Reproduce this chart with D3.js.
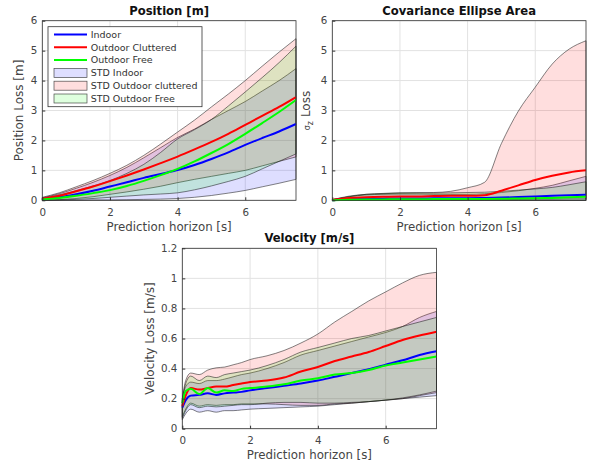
<!DOCTYPE html>
<html>
<head>
<meta charset="utf-8">
<script src="https://cdn.jsdelivr.net/npm/d3@7"></script>
<style>
  body { margin: 0; background: #fff; }
  svg { font-family: "DejaVu Sans", sans-serif; }
</style>
</head>
<body>
<svg id="fig" width="590" height="466"></svg>
<script>
/* ---- data ---- */
var posTime = [0, 0.5, 1, 1.5, 2, 2.5, 3, 3.5, 4, 4.5, 5, 5.5, 6, 6.5, 7, 7.5];

var posIndoor   = [0.03, 0.1, 0.2, 0.32, 0.46, 0.6, 0.75, 0.88, 1.01, 1.18, 1.38, 1.6, 1.85, 2.08, 2.3, 2.55];
var posClut     = [0.05, 0.15, 0.3, 0.46, 0.64, 0.83, 1.03, 1.24, 1.46, 1.7, 1.95, 2.22, 2.52, 2.82, 3.12, 3.45];
var posFree     = [0.03, 0.08, 0.15, 0.24, 0.34, 0.48, 0.65, 0.84, 1.05, 1.3, 1.58, 1.88, 2.22, 2.58, 2.95, 3.35];
var posIndoorHi = [0.08, 0.22, 0.4, 0.6, 0.83, 1.1, 1.42, 1.76, 2.1, 2.38, 2.7, 3.0, 3.3, 3.65, 4.0, 4.4];
var posIndoorLo = [0, 0, 0, 0.01, 0.01, 0.02, 0.03, 0.04, 0.06, 0.1, 0.16, 0.24, 0.33, 0.45, 0.57, 0.7];
var posClutHi   = [0.1, 0.25, 0.45, 0.66, 0.9, 1.17, 1.5, 1.88, 2.28, 2.68, 3.12, 3.55, 4.0, 4.48, 4.95, 5.4];
var posClutLo   = [0, 0.02, 0.06, 0.12, 0.2, 0.28, 0.37, 0.47, 0.59, 0.7, 0.8, 0.9, 1.0, 1.15, 1.3, 1.45];
var posFreeHi   = [0.07, 0.18, 0.32, 0.48, 0.66, 0.9, 1.2, 1.6, 2.05, 2.36, 2.7, 3.15, 3.62, 4.1, 4.6, 5.15];
var posFreeLo   = [0, 0.01, 0.03, 0.06, 0.1, 0.14, 0.18, 0.21, 0.25, 0.35, 0.48, 0.63, 0.8, 1.05, 1.3, 1.55];

var covTime = [0, 0.5, 1, 1.5, 2, 2.5, 3, 3.5, 4, 4.5, 5, 5.5, 6, 6.5, 7, 7.5];

var covIndoor   = [0, 0.04, 0.05, 0.055, 0.06, 0.06, 0.065, 0.065, 0.07, 0.08, 0.09, 0.11, 0.13, 0.15, 0.17, 0.19];
var covClut     = [0.02, 0.08, 0.1, 0.12, 0.13, 0.13, 0.14, 0.15, 0.15, 0.17, 0.32, 0.5, 0.68, 0.82, 0.93, 1.0];
var covFree     = [0, 0.02, 0.03, 0.03, 0.035, 0.035, 0.04, 0.04, 0.04, 0.045, 0.05, 0.06, 0.07, 0.08, 0.1, 0.12];
var covIndoorHi = [0.02, 0.12, 0.18, 0.2, 0.21, 0.21, 0.2, 0.2, 0.2, 0.22, 0.26, 0.32, 0.4, 0.5, 0.65, 0.8];
var covIndoorLo = [0, 0, 0, 0, 0, 0, 0, 0, 0, 0, 0, 0, 0, 0, 0, 0];
var covClutHi   = [0.02, 0.12, 0.2, 0.22, 0.24, 0.25, 0.26, 0.3, 0.42, 0.6, 1.9, 2.98, 3.78, 4.55, 5.05, 5.33];
var covClutLo   = [0, 0.01, 0.02, 0.03, 0.03, 0.03, 0.03, 0.03, 0.03, 0.03, 0.03, 0.03, 0.04, 0.04, 0.05, 0.05];
var covFreeHi   = [0.02, 0.14, 0.2, 0.23, 0.25, 0.25, 0.24, 0.25, 0.26, 0.27, 0.3, 0.34, 0.38, 0.43, 0.52, 0.62];
var covFreeLo   = [0, 0, 0, 0, 0, 0, 0, 0, 0, 0, 0, 0, 0, 0, 0, 0];

var velTime = [0, 0.1, 0.25, 0.5, 0.75, 1, 1.25, 1.5, 1.75, 2, 2.5, 3, 3.5, 4, 4.5, 5, 5.5, 6, 6.5, 7, 7.5];

var velIndoor   = [0.14, 0.19, 0.22, 0.225, 0.235, 0.225, 0.235, 0.24, 0.245, 0.255, 0.27, 0.285, 0.3, 0.32, 0.345, 0.37, 0.395, 0.425, 0.455, 0.49, 0.515];
var velClut     = [0.15, 0.22, 0.27, 0.26, 0.27, 0.28, 0.28, 0.29, 0.3, 0.31, 0.32, 0.34, 0.38, 0.41, 0.45, 0.48, 0.51, 0.55, 0.59, 0.62, 0.645];
var velFree     = [0.17, 0.25, 0.265, 0.23, 0.27, 0.24, 0.255, 0.25, 0.265, 0.27, 0.28, 0.295, 0.32, 0.335, 0.36, 0.37, 0.39, 0.42, 0.44, 0.46, 0.48];
var velIndoorHi = [0.19, 0.28, 0.31, 0.3, 0.32, 0.32, 0.33, 0.345, 0.36, 0.37, 0.4, 0.44, 0.49, 0.52, 0.55, 0.58, 0.61, 0.64, 0.68, 0.74, 0.78];
var velIndoorLo = [0.06, 0.1, 0.13, 0.11, 0.12, 0.11, 0.12, 0.12, 0.125, 0.13, 0.135, 0.14, 0.145, 0.15, 0.16, 0.17, 0.18, 0.19, 0.2, 0.21, 0.22];
var velClutHi   = [0.2, 0.32, 0.37, 0.36, 0.39, 0.405, 0.41, 0.425, 0.44, 0.46, 0.485, 0.52, 0.57, 0.63, 0.71, 0.78, 0.85, 0.91, 0.97, 1.02, 1.04];
var velClutLo   = [0.08, 0.13, 0.17, 0.15, 0.16, 0.155, 0.16, 0.16, 0.165, 0.165, 0.165, 0.16, 0.155, 0.155, 0.165, 0.17, 0.18, 0.19, 0.2, 0.22, 0.24];
var velFreeHi   = [0.2, 0.3, 0.35, 0.32, 0.35, 0.34, 0.36, 0.37, 0.38, 0.39, 0.42, 0.46, 0.51, 0.54, 0.57, 0.6, 0.62, 0.65, 0.68, 0.71, 0.74];
var velFreeLo   = [0.07, 0.12, 0.16, 0.14, 0.15, 0.145, 0.15, 0.155, 0.16, 0.16, 0.17, 0.175, 0.175, 0.17, 0.17, 0.175, 0.18, 0.19, 0.205, 0.225, 0.25];

var xTicks    = [0, 2, 4, 6];
var posYTicks = [0, 1, 2, 3, 4, 5, 6];
var velYTicks = [0, 0.2, 0.4, 0.6, 0.8, 1, 1.2];

var seriesNames = ['Indoor', 'Outdoor Cluttered', 'Outdoor Free'];
var bandNames   = ['STD Indoor', 'STD Outdoor cluttered', 'STD Outdoor Free'];
var seriesColors = ['#0000ff', '#ff0000', '#00ff00'];

/* ---- drawing ---- */
var svg = d3.select('#fig');
var BAND_ALPHA = 0.13;
var fmt = d3.format('~g');

function drawPanel(p) {
  var x = d3.scaleLinear().domain([0, 7.5]).range([p.left, p.right]);
  var y = d3.scaleLinear().domain([0, p.yMax]).range([p.bottom, p.top]);
  var g = svg.append('g');

  /* grid */
  g.selectAll('line.gx').data(xTicks).join('line')
    .attr('x1', function (d) { return x(d); }).attr('x2', function (d) { return x(d); })
    .attr('y1', p.top).attr('y2', p.bottom)
    .attr('stroke', '#e2e2e2').attr('stroke-width', 1);
  g.selectAll('line.gy').data(p.yTicks).join('line')
    .attr('x1', p.left).attr('x2', p.right)
    .attr('y1', function (d) { return y(d); }).attr('y2', function (d) { return y(d); })
    .attr('stroke', '#e2e2e2').attr('stroke-width', 1);

  /* std bands */
  var area = d3.area()
    .x(function (d) { return x(d.t); })
    .y0(function (d) { return y(d.lo); })
    .y1(function (d) { return y(d.hi); })
    .curve(d3.curveMonotoneX);
  p.bands.forEach(function (b, i) {
    var rows = p.time.map(function (t, j) { return { t: t, lo: b.lo[j], hi: b.hi[j] }; });
    g.append('path').datum(rows)
      .attr('d', area)
      .attr('fill', seriesColors[i]).attr('fill-opacity', BAND_ALPHA)
      .attr('stroke', '#111').attr('stroke-opacity', 0.75).attr('stroke-width', 0.7);
  });

  /* means */
  var line = d3.line()
    .x(function (d) { return x(d.t); })
    .y(function (d) { return y(d.v); })
    .curve(d3.curveMonotoneX);
  p.means.forEach(function (m, i) {
    var rows = p.time.map(function (t, j) { return { t: t, v: m[j] }; });
    g.append('path').datum(rows)
      .attr('d', line)
      .attr('fill', 'none').attr('stroke', seriesColors[i]).attr('stroke-width', 2);
  });

  /* axes */
  var xAxis = d3.axisBottom(x).tickValues(xTicks).tickFormat(fmt)
    .tickSizeInner(-3).tickSizeOuter(0).tickPadding(8);
  var yAxis = d3.axisLeft(y).tickValues(p.yTicks).tickFormat(fmt)
    .tickSizeInner(-3).tickSizeOuter(0).tickPadding(5);
  var ax = g.append('g').attr('transform', 'translate(0,' + p.bottom + ')').call(xAxis);
  var ay = g.append('g').attr('transform', 'translate(' + p.left + ',0)').call(yAxis);
  [ax, ay].forEach(function (a) {
    a.select('.domain').remove();
    a.selectAll('line').attr('stroke', '#333');
    a.selectAll('text').attr('fill', '#444').style('font-size', '10.3px');
    a.attr('font-family', null);
  });

  /* box */
  g.append('rect')
    .attr('x', p.left).attr('y', p.top)
    .attr('width', p.right - p.left).attr('height', p.bottom - p.top)
    .attr('fill', 'none').attr('stroke', '#333').attr('stroke-width', 0.8);

  /* title + labels */
  g.append('text')
    .attr('x', (p.left + p.right) / 2).attr('y', p.top - 6)
    .attr('text-anchor', 'middle').attr('font-weight', 'bold')
    .attr('font-size', 11.6).attr('fill', '#111')
    .text(p.title);
  g.append('text')
    .attr('x', (p.left + p.right) / 2).attr('y', p.bottom + 30.5)
    .attr('text-anchor', 'middle').attr('font-size', 11.8).attr('fill', '#444')
    .text('Prediction horizon [s]');
  var yl = g.append('text')
    .attr('transform', 'translate(' + (p.left - p.ylabelGap) + ',' + ((p.top + p.bottom) / 2) + ') rotate(-90)')
    .attr('text-anchor', 'middle').attr('font-size', 12).attr('fill', '#444');
  if (p.sigma) {
    yl.append('tspan').attr('font-size', 8).text('\u03c3');
    yl.append('tspan').attr('font-size', 8).attr('dy', 3).text('z');
    yl.append('tspan').attr('dy', -3).text(' Loss');
  } else {
    yl.text(p.ylabel);
  }
  return g;
}

drawPanel({
  left: 42.3, right: 296, top: 20.7, bottom: 200.3, yMax: 6, yTicks: posYTicks,
  title: 'Position [m]', ylabel: 'Position Loss [m]', ylabelGap: 19,
  time: posTime,
  means: [posIndoor, posClut, posFree],
  bands: [{ lo: posIndoorLo, hi: posIndoorHi }, { lo: posClutLo, hi: posClutHi }, { lo: posFreeLo, hi: posFreeHi }]
});

drawPanel({
  left: 332.3, right: 586, top: 20.7, bottom: 200.3, yMax: 6, yTicks: posYTicks,
  title: 'Covariance Ellipse Area', sigma: true, ylabelGap: 22,
  time: covTime,
  means: [covIndoor, covClut, covFree],
  bands: [{ lo: covIndoorLo, hi: covIndoorHi }, { lo: covClutLo, hi: covClutHi }, { lo: covFreeLo, hi: covFreeHi }]
});

drawPanel({
  left: 182.3, right: 436.5, top: 248.3, bottom: 428.7, yMax: 1.2, yTicks: velYTicks,
  title: 'Velocity [m/s]', ylabel: 'Velocity Loss [m/s]', ylabelGap: 28,
  time: velTime,
  means: [velIndoor, velClut, velFree],
  bands: [{ lo: velIndoorLo, hi: velIndoorHi }, { lo: velClutLo, hi: velClutHi }, { lo: velFreeLo, hi: velFreeHi }]
});

/* legend (first panel) */
var leg = svg.append('g');
leg.append('rect')
  .attr('x', 48).attr('y', 26.7).attr('width', 154).attr('height', 80)
  .attr('fill', '#fff').attr('stroke', '#333').attr('stroke-width', 0.8);
var legRows = seriesNames.map(function (n, i) { return { name: n, kind: 'line', i: i }; })
  .concat(bandNames.map(function (n, i) { return { name: n, kind: 'band', i: i }; }));
var legItem = leg.selectAll('g.item').data(legRows).join('g')
  .attr('transform', function (d, k) { return 'translate(0,' + (34.5 + k * 12.8) + ')'; });
legItem.filter(function (d) { return d.kind === 'line'; }).append('line')
  .attr('x1', 54).attr('x2', 87).attr('y1', 0).attr('y2', 0)
  .attr('stroke', function (d) { return seriesColors[d.i]; }).attr('stroke-width', 2);
legItem.filter(function (d) { return d.kind === 'band'; }).append('rect')
  .attr('x', 54).attr('y', -4.5).attr('width', 33).attr('height', 9)
  .attr('fill', function (d) { return seriesColors[d.i]; }).attr('fill-opacity', BAND_ALPHA)
  .attr('stroke', '#111').attr('stroke-opacity', 0.75).attr('stroke-width', 0.7);
legItem.append('text')
  .attr('x', 90.7).attr('y', 0).attr('dy', '0.35em')
  .attr('font-size', 9.5).attr('fill', '#333')
  .text(function (d) { return d.name; });
</script>
</body>
</html>
